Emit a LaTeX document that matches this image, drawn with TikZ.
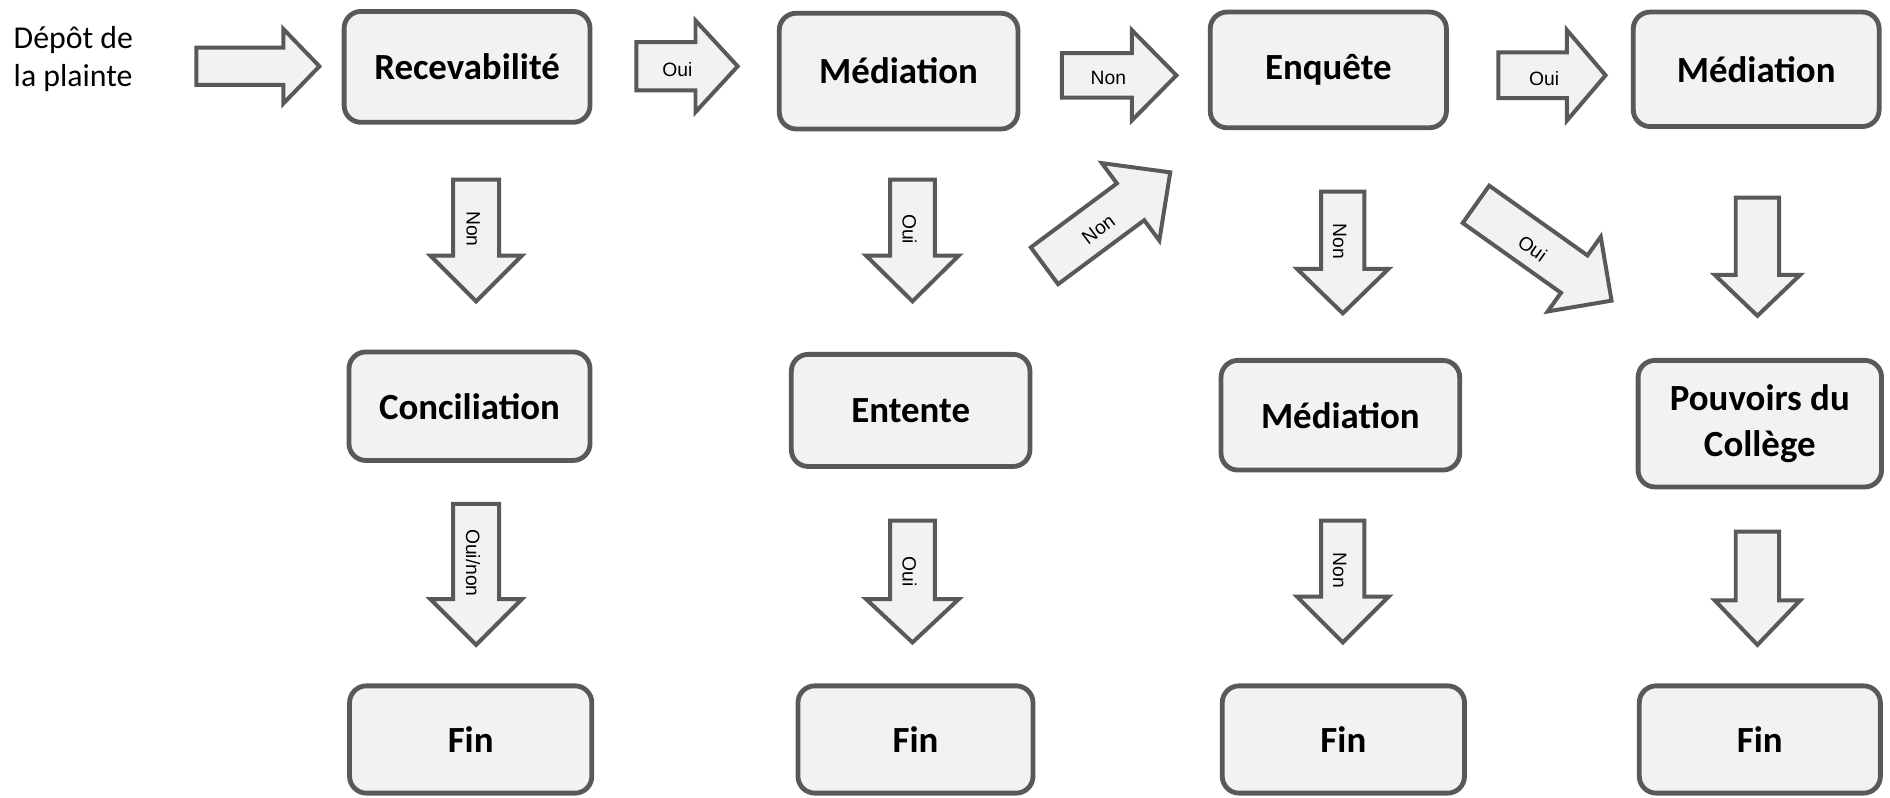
\documentclass[tikz,border=0pt]{standalone}
\usepackage{fontspec}
\setmainfont{Carlito}
\newfontfamily\labelfont{Liberation Sans}
\definecolor{edgegray}{HTML}{595959}
\definecolor{fillgray}{HTML}{F2F2F2}
\tikzset{
  box/.style={draw=edgegray, fill=fillgray, line width=2pt, rounded corners=7pt,
    align=center, inner sep=0pt, font=\bfseries\fontsize{15.3}{19}\selectfont},
  barrow/.style={draw=edgegray, fill=fillgray, line width=1.65pt, line join=miter},
  lab/.style={inner sep=0pt, font=\labelfont\fontsize{8}{10}\selectfont},
}
% #1 name, #2 x, #3 y (tail centre), #4 angle, #5 length, #6 shaft half width,
% #7 head half width, #8 head length, #9 label
\newcommand\blockarrow[9]{%
  \begin{scope}[shift={(#2,#3)}, rotate=#4]
    \draw[barrow] (0,-#6) -- ({#5-#8},-#6) -- ({#5-#8},-#7) -- (#5,0)
      -- ({#5-#8},#7) -- ({#5-#8},#6) -- (0,#6) -- cycle;
    \node[lab, rotate=#4] (#1) at ({(#5-#8)/2+9.5},2.5) {#9};
  \end{scope}}
\begin{document}
\begin{tikzpicture}[x=0.5pt, y=-0.5pt]
\useasboundingbox (0,0) rectangle (1568,662);
% boxes
\node[box, minimum width=102pt, minimum height=46pt] (rec) at (387.5,55.5) {Recevabilité};
\node[box, minimum width=99pt, minimum height=48pt] (med1) at (745.5,59) {Médiation};
\node[box, minimum width=98pt, minimum height=48pt] (enq) at (1102,58) {Enquête};
\node[box, minimum width=102pt, minimum height=47.5pt] (med2) at (1457,57.5) {Médiation};
\node[box, minimum width=100pt, minimum height=45pt] (conc) at (389.5,337) {Conciliation};
\node[box, minimum width=99pt, minimum height=46.5pt] (ent) at (755.5,340.5) {Entente};
\node[box, minimum width=99pt, minimum height=45.5pt] (med3) at (1112,344.5) {Médiation};
\node[box, minimum width=101pt, minimum height=52.5pt] (pouv) at (1460,351.5) {Pouvoirs du\\Collège};
\node[box, minimum width=100.5pt, minimum height=44.5pt] (fin1) at (390.5,613.5) {Fin};
\node[box, minimum width=97.5pt, minimum height=44.5pt] (fin2) at (759.5,613.5) {Fin};
\node[box, minimum width=100.5pt, minimum height=44.5pt] (fin3) at (1114.5,613.5) {Fin};
\node[box, minimum width=100pt, minimum height=44.5pt] (fin4) at (1460,613.5) {Fin};
% start text
\node[anchor=west, align=left, inner sep=0pt, font=\fontsize{13.2}{16}\selectfont] (depot) at (11,49) {Dépôt de\\la plainte};
% horizontal arrows
\blockarrow{a0}{163}{55}{0}{102}{15.5}{31}{30}{}
\blockarrow{a1}{528}{55}{0}{84}{20}{38}{35}{Oui}
\blockarrow{a2}{881}{62.5}{0}{95}{18.5}{37.5}{37}{Non}
\blockarrow{a3}{1243}{62.5}{0}{89}{19}{37.5}{32}{Oui}
% vertical arrows
\blockarrow{d1}{395}{149}{-90}{101}{19}{38}{38}{Non}
\blockarrow{d2}{395}{418}{-90}{117}{19}{38}{38}{Oui/non}
\blockarrow{d3}{757}{149}{-90}{101}{18.5}{38.5}{38}{Oui}
\blockarrow{d4}{757}{432}{-90}{101}{18.5}{38.5}{36}{Oui}
\blockarrow{d5}{1114}{159}{-90}{101}{18}{38}{37}{Non}
\blockarrow{d6}{1114}{432}{-90}{101}{18}{38}{38}{Non}
\blockarrow{d7}{1458}{164}{-90}{98}{18}{35.5}{34}{}
\blockarrow{d8}{1458}{441}{-90}{94}{18}{35.5}{37}{}
% diagonal arrows
\blockarrow{g1}{866.5}{220.5}{36.6}{130}{19}{40}{41}{Non}
\blockarrow{g2}{1224.5}{169.5}{-35.4}{138}{19}{38}{38}{Oui}
\end{tikzpicture}
\end{document}
